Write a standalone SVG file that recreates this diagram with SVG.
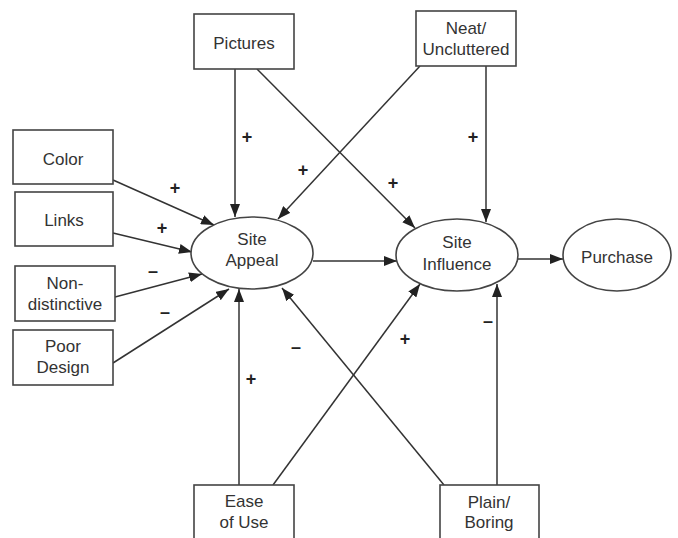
<svg xmlns="http://www.w3.org/2000/svg" width="678" height="538" viewBox="0 0 678 538">
<style>
.box{fill:#fff;stroke:#444;stroke-width:1.6}
.t{font-family:"Liberation Sans",Arial,sans-serif;font-size:17px;fill:#333;text-anchor:middle}
.s{font-family:"Liberation Sans",Arial,sans-serif;font-size:18px;font-weight:bold;fill:#222;text-anchor:middle}
.c line{stroke:#333;stroke-width:1.5;marker-end:url(#ah)}
</style>
<defs>
<marker id="ah" markerUnits="userSpaceOnUse" markerWidth="14" markerHeight="10" refX="13" refY="5" orient="auto">
<path d="M0,0 L13,5 L0,10 Z" fill="#222"/>
</marker>
</defs>
<rect width="678" height="538" fill="#fff"/>
<g class="c" id="connectors">
<line x1="235" y1="69" x2="235" y2="217"/>
<line x1="257" y1="69" x2="415" y2="228"/>
<line x1="420" y1="66" x2="278" y2="219"/>
<line x1="486" y1="66" x2="486" y2="222"/>
<line x1="113" y1="180" x2="214" y2="225"/>
<line x1="113" y1="233" x2="192" y2="252"/>
<line x1="115" y1="297" x2="202" y2="274"/>
<line x1="113" y1="363" x2="229" y2="289"/>
<line x1="239" y1="485" x2="239" y2="289"/>
<line x1="273" y1="485" x2="420" y2="284"/>
<line x1="444" y1="485" x2="282" y2="288"/>
<line x1="497" y1="485" x2="497" y2="284"/>
<line x1="313" y1="261" x2="397" y2="261"/>
<line x1="518" y1="259" x2="563" y2="259"/>
</g>
<g id="signs">
<text class="s" x="247" y="143">+</text>
<text class="s" x="303" y="176">+</text>
<text class="s" x="175" y="194">+</text>
<text class="s" x="393" y="189">+</text>
<text class="s" x="473" y="143">+</text>
<text class="s" x="162" y="234">+</text>
<text class="s" x="153" y="277">–</text>
<text class="s" x="165" y="318">–</text>
<text class="s" x="296" y="353">–</text>
<text class="s" x="251" y="385">+</text>
<text class="s" x="405" y="345">+</text>
<text class="s" x="488" y="327">–</text>
</g>
<g id="pictures"><rect class="box" x="194" y="14" width="100" height="55"/><text class="t" x="244" y="49">Pictures</text></g>
<g id="neat"><rect class="box" x="416" y="11" width="100" height="55"/><text class="t" x="466" y="34">Neat/</text><text class="t" x="466" y="55">Uncluttered</text></g>
<g id="color"><rect class="box" x="13" y="130" width="100" height="54"/><text class="t" x="63" y="165">Color</text></g>
<g id="links"><rect class="box" x="15" y="192" width="98" height="54"/><text class="t" x="64" y="226">Links</text></g>
<g id="nondistinctive"><rect class="box" x="15" y="266" width="100" height="55"/><text class="t" x="65" y="289">Non-</text><text class="t" x="65" y="310">distinctive</text></g>
<g id="poordesign"><rect class="box" x="13" y="330" width="100" height="55"/><text class="t" x="63" y="352">Poor</text><text class="t" x="63" y="373">Design</text></g>
<g id="siteappeal"><ellipse class="box" cx="252" cy="253" rx="61" ry="36"/><text class="t" x="252" y="245">Site</text><text class="t" x="252" y="266">Appeal</text></g>
<g id="siteinfluence"><ellipse class="box" cx="457" cy="255" rx="61" ry="36"/><text class="t" x="457" y="248">Site</text><text class="t" x="457" y="270">Influence</text></g>
<g id="purchase"><ellipse class="box" cx="617" cy="255" rx="54" ry="36"/><text class="t" x="617" y="263">Purchase</text></g>
<g id="easeofuse"><rect class="box" x="194" y="485" width="100" height="60"/><text class="t" x="244" y="507">Ease</text><text class="t" x="244" y="528">of Use</text></g>
<g id="plainboring"><rect class="box" x="440" y="485" width="99" height="60"/><text class="t" x="489" y="508">Plain/</text><text class="t" x="489" y="528">Boring</text></g>
</svg>
